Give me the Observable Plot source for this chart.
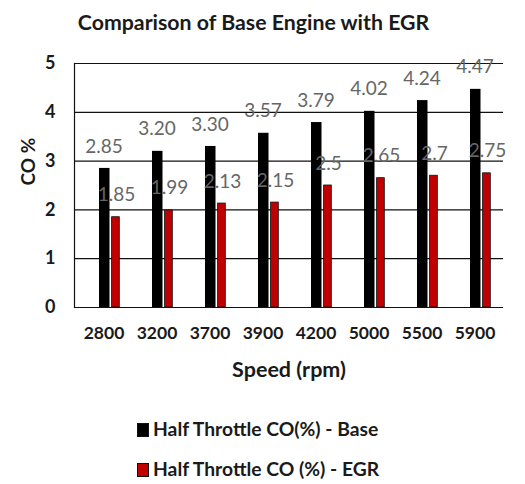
<!DOCTYPE html>
<html>
<head>
<meta charset="utf-8">
<script src="https://cdn.jsdelivr.net/npm/d3@7"></script>
<script src="https://cdn.jsdelivr.net/npm/@observablehq/plot@0.6"></script>
<style>
  html, body { margin: 0; padding: 0; background: #fff; }
  body { width: 525px; height: 484px; position: relative; overflow: hidden; font-family: Lato, "Open Sans", sans-serif; }
  #title { position: absolute; left: 0; width: 507px; top: 9px; text-align: center; font-weight: bold; font-size: 21.3px; color: #1a1a1a; }
  #chart { position: absolute; left: 0; top: 0; }
  .leg { position: absolute; left: 137px; font-weight: bold; font-size: 19.3px; color: #1a1a1a; line-height: 22px; white-space: nowrap; }
  .sw { display: inline-block; width: 10px; height: 12px; border: 1px solid #111; vertical-align: -1px; margin-right: 4px; }
</style>
</head>
<body>
<div id="title">Comparison of Base Engine with EGR</div>
<div id="chart"></div>
<div class="leg" style="top:418px"><span class="sw" style="background:#000"></span>Half Throttle CO(%) - Base</div>
<div class="leg" style="top:458px"><span class="sw" style="background:#C00000"></span>Half Throttle CO (%) - EGR</div>
<script>
const speeds = ["2800", "3200", "3700", "3900", "4200", "5000", "5500", "5900"];
const baseCO = [2.85, 3.20, 3.30, 3.57, 3.79, 4.02, 4.24, 4.47];
const egrCO = [1.85, 1.99, 2.13, 2.15, 2.5, 2.65, 2.7, 2.75];
const baseLabels = ["2.85", "3.20", "3.30", "3.57", "3.79", "4.02", "4.24", "4.47"];
const egrLabels = ["1.85", "1.99", "2.13", "2.15", "2.5", "2.65", "2.7", "2.75"];
const yTicks = [0, 1, 2, 3, 4, 5];

const base = speeds.map((s, i) => ({speed: s, v: baseCO[i], label: baseLabels[i]}));
const egr = speeds.map((s, i) => ({speed: s, v: egrCO[i], label: egrLabels[i]}));

const font = "Lato, 'Open Sans', sans-serif";
const plot = Plot.plot({
  width: 525,
  height: 390,
  marginTop: 63,
  marginBottom: 83,
  marginLeft: 74,
  marginRight: 22,
  style: {fontFamily: font, background: "transparent"},
  x: {type: "band", domain: speeds, range: [80, 509], padding: 0},
  y: {domain: [0, 5], range: [307, 63]},
  marks: [
    Plot.ruleY(yTicks, {stroke: "#111", strokeWidth: 1.2}),
    Plot.frame({anchor: "left", stroke: "#111", strokeWidth: 1.2}),
    Plot.barY(base, {x: "speed", y: "v", fill: "#000", insetLeft: 16, insetRight: 26.5}),
    Plot.barY(egr, {x: "speed", y: "v", fill: "#C00000", stroke: "#111", strokeWidth: 0.8, insetLeft: 28.6, insetRight: 16.7}),
    Plot.text(base, {x: "speed", y: "v", text: "label", dx: -6, dy: -22, fill: "#666", fontSize: 19}),
    Plot.text(egr, {x: "speed", y: "v", text: "label", dx: 6.5, dy: -22, fill: "#666", fontSize: 19}),
    Plot.axisY(yTicks, {tickSize: 0, tickPadding: 19, label: null, fontSize: 18, fontWeight: "bold", fill: "#1a1a1a", tickFormat: d => String(d)}),
    Plot.axisX({tickSize: 0, tickPadding: 19, dx: -6, label: null, fontSize: 17.5, fontWeight: "bold", fill: "#1a1a1a"}),
    Plot.text(["Speed (rpm)"], {frameAnchor: "bottom", dy: 63, fontSize: 21.5, fontWeight: "bold", fill: "#1a1a1a", lineAnchor: "middle"}),
    Plot.text(["CO %"], {frameAnchor: "left", dx: -46, rotate: -90, fontSize: 19, fontWeight: "bold", fill: "#1a1a1a", lineAnchor: "middle"})
  ]
});
document.getElementById("chart").appendChild(plot);
</script>
</body>
</html>
